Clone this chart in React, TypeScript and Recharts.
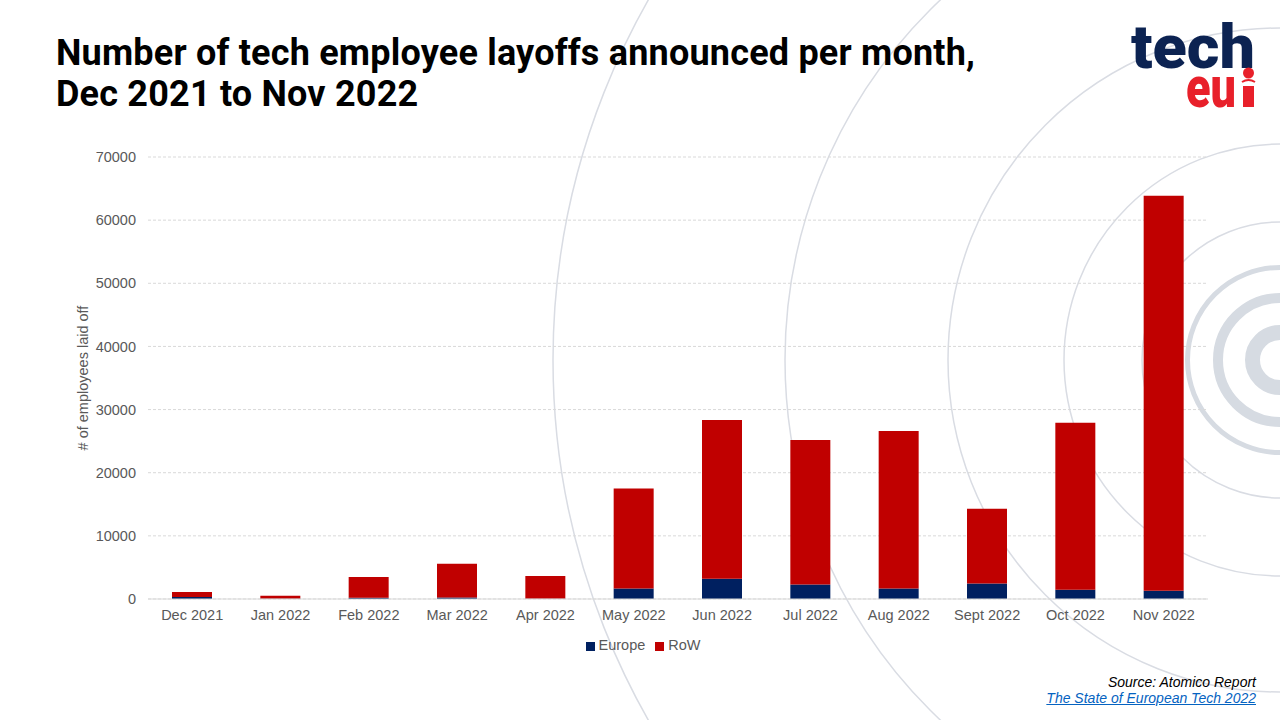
import { BarChart, Bar, XAxis, YAxis, CartesianGrid, Legend } from "recharts";

// values (employees laid off per month)
const months = [
  "Dec 2021",
  "Jan 2022",
  "Feb 2022",
  "Mar 2022",
  "Apr 2022",
  "May 2022",
  "Jun 2022",
  "Jul 2022",
  "Aug 2022",
  "Sept 2022",
  "Oct 2022",
  "Nov 2022",
];
const europe = [300, 50, 200, 250, 50, 1650, 3200, 2300, 1650, 2450, 1450, 1300];
const restOfWorld = [800, 450, 3300, 5350, 3600, 15850, 25150, 22900, 24950, 11850, 26450, 62550];
const yTicks = [0, 10000, 20000, 30000, 40000, 50000, 60000, 70000];

// decorative rings behind the chart
const thinRadii = [727, 495, 332, 216, 138];
const thickRings = [
  { r: 92.5, w: 5 },
  { r: 62, w: 10 },
  { r: 27.5, w: 15 },
];

const chartData = months.map((month, i) => ({
  month,
  Europe: europe[i],
  RoW: restOfWorld[i],
}));

const axisFont = "'Liberation Sans', Arial, sans-serif";
const grey = "#595959";

const Logo = () => (
  <>
    <svg width={140} height={80} style={{ position: "absolute", left: 1126, top: 8 }}>
      <text
        x={5}
        y={60}
        fill="#0c2352"
        fontFamily="Roboto, sans-serif"
        fontWeight={900}
        fontSize={62}
        textLength={124}
        lengthAdjust="spacingAndGlyphs"
      >
        tech
      </text>
    </svg>
    <svg width={140} height={60} style={{ position: "absolute", left: 1126, top: 66 }}>
      <text
        x={60}
        y={41}
        fill="#e8202a"
        fontFamily="Roboto, sans-serif"
        fontWeight={900}
        fontSize={58}
        textLength={50}
        lengthAdjust="spacingAndGlyphs"
      >
        eu
      </text>
      <circle cx={122.5} cy={7} r={5.5} fill="#e8202a" />
      <path d="M116 16 Q122.5 12 129 16" stroke="#e8202a" strokeWidth={2} fill="none" />
      <rect x={117} y={20} width={11} height={21} fill="#e8202a" />
    </svg>
  </>
);

export default function App() {
  return (
    <div
      style={{
        position: "absolute",
        left: 0,
        top: 0,
        width: 1280,
        height: 720,
        background: "#ffffff",
        overflow: "hidden",
      }}
    >
      <svg width={1280} height={720} style={{ position: "absolute", left: 0, top: 0 }}>
        {thinRadii.map((r) => (
          <circle key={r} cx={1280} cy={360} r={r} fill="none" stroke="#d9dce3" strokeWidth={1.5} />
        ))}
        {thickRings.map((ring) => (
          <circle
            key={ring.r}
            cx={1280}
            cy={360}
            r={ring.r}
            fill="none"
            stroke="#d6dbe2"
            strokeWidth={ring.w}
          />
        ))}
      </svg>

      <div
        style={{
          position: "absolute",
          left: 56,
          top: 33,
          fontFamily: "Roboto, sans-serif",
          fontWeight: 700,
          fontSize: 36,
          lineHeight: "41px",
          letterSpacing: 0.2,
          color: "#000000",
        }}
      >
        Number of tech employee layoffs announced per month,
        <br />
        Dec 2021 to Nov 2022
      </div>

      <Logo />

      <div style={{ position: "absolute", left: 0, top: 0 }}>
        <BarChart
          width={1280}
          height={720}
          data={chartData}
          margin={{ top: 157, right: 72, left: 20, bottom: 67 }}
          barSize={40}
        >
          <CartesianGrid stroke="#d9d9d9" strokeDasharray="3 2" vertical={false} />
          <XAxis
            dataKey="month"
            axisLine={{ stroke: "#d9d9d9" }}
            tickLine={false}
            interval={0}
            tickMargin={5}
            tick={{ fill: grey, fontSize: 14.5, fontFamily: axisFont }}
          />
          <YAxis
            width={128}
            domain={[0, 70000]}
            ticks={yTicks}
            axisLine={false}
            tickLine={false}
            tickMargin={6}
            tick={{ fill: grey, fontSize: 14.5, fontFamily: axisFont }}
            label={{
              value: "# of employees laid off",
              angle: -90,
              position: "insideLeft",
              offset: 63,
              style: { textAnchor: "middle", fill: grey, fontSize: 14.5, fontFamily: axisFont },
            }}
          />
          <Legend
            verticalAlign="bottom"
            height={24}
            iconType="square"
            iconSize={9}
            wrapperStyle={{ bottom: 59, left: 0, width: 1296, fontFamily: axisFont, fontSize: 14.5 }}
            formatter={(value: string) => <span style={{ color: grey }}>{value}</span>}
          />
          <Bar dataKey="Europe" stackId="a" fill="#002060" isAnimationActive={false} />
          <Bar dataKey="RoW" stackId="a" fill="#c00000" isAnimationActive={false} />
        </BarChart>
      </div>

      <div
        style={{
          position: "absolute",
          right: 24,
          top: 674,
          textAlign: "right",
          fontFamily: axisFont,
          fontStyle: "italic",
          fontSize: 14,
          lineHeight: "16px",
        }}
      >
        <div style={{ color: "#000000" }}>Source: Atomico Report</div>
        <div style={{ color: "#0563c1", textDecoration: "underline" }}>
          The State of European Tech 2022
        </div>
      </div>
    </div>
  );
}
